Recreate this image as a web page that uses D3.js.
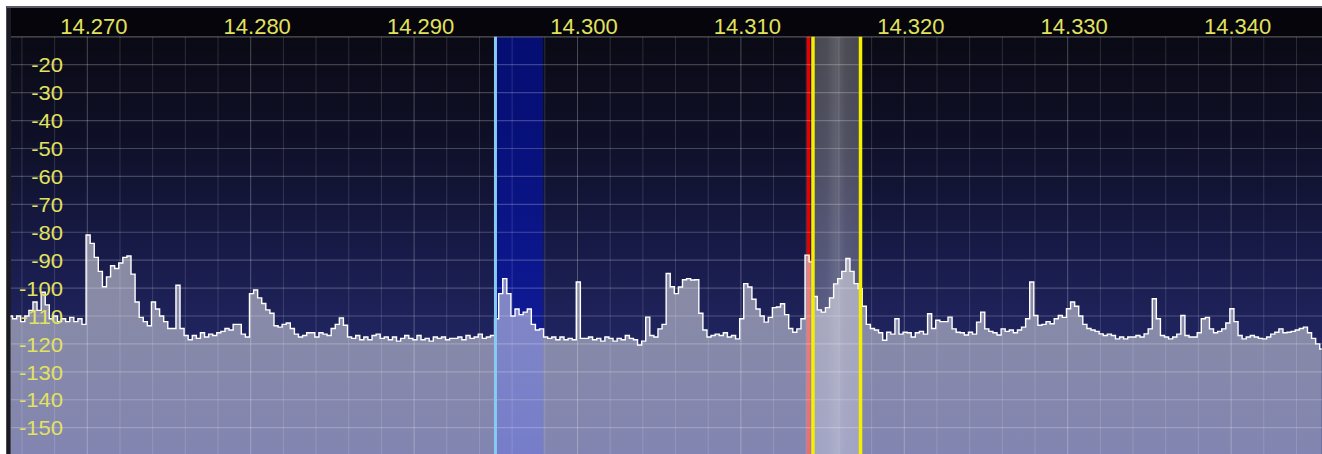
<!DOCTYPE html>
<html>
<head>
<meta charset="utf-8">
<script src="https://cdn.jsdelivr.net/npm/d3@7"></script>
<style>
  body { margin: 0; background: #fff; }
  svg { display: block; }
</style>
</head>
<body>
<svg id="chart" width="1322" height="454"></svg>
<script>
// Panadapter sweep: one level (dBm) per 250 Hz bin, starting at startFreq (MHz)
const startFreq = 14.2653;
const binStep = 0.00025;
const levels = [
  -110,-111,-110,-112,-110,-108,-105,-108,-101.5,-106,
  -111,-110,-112,-111,-112,-110.5,-112,-111,-113,-81,
  -84,-89,-94,-99.5,-96,-92,-93,-91,-89,-88.5,
  -95,-105,-110.5,-112,-113.5,-105,-107.5,-110,-112,-114.5,
  -114.5,-99,-114.5,-117,-118.5,-117,-118,-116,-117.5,-116.5,
  -117,-116,-115.5,-114.5,-115,-113,-113,-116.5,-117.5,-102,
  -100.7,-103.5,-105.5,-107.8,-109,-113.5,-114,-113,-112.5,-114.5,
  -116.5,-117.5,-117,-116,-116,-117.5,-116,-116.5,-117,-114.5,
  -113,-110.7,-113.3,-117.5,-118,-117,-118.5,-117.5,-118.5,-117,
  -116.5,-118,-117.5,-118.5,-117.5,-119,-118,-117,-118,-118.5,
  -117,-118.5,-118,-119,-117.5,-118,-117.5,-118.5,-118,-118,
  -117.5,-118.5,-117,-118,-117.5,-116.5,-118,-117.5,-117,-111,
  -102,-96.6,-102,-110,-107.5,-109.5,-108.6,-107.5,-113,-115,
  -114.6,-117.5,-118,-117.5,-118.5,-117.5,-118.5,-118,-118.5,-97.8,
  -118,-118,-117.5,-118.5,-118,-119,-117.5,-118,-119,-118,
  -118.5,-117,-118,-118.5,-120.4,-119,-110.4,-117,-117.5,-114.6,
  -113,-94.8,-99.5,-102,-99.6,-97,-96.6,-97.1,-97,-109,
  -115,-117.5,-117,-116.5,-117,-116,-117.5,-117,-118.2,-111,
  -98.4,-99.6,-104,-107.5,-110,-112.2,-110.5,-107,-106.8,-105.6,
  -109.5,-114.5,-115.8,-114.6,-111,-88.2,-90.6,-103,-107.8,-108.6,
  -107,-103.5,-98.5,-96.6,-94,-89.4,-94,-98.4,-100.2,-106.5,
  -113,-114.5,-115,-116,-118.7,-115.8,-116.5,-111,-116.5,-115.8,
  -116,-117.5,-116,-115.5,-116.5,-109.2,-114.5,-111.5,-112,-112,
  -110.4,-114.6,-115.8,-116,-116.8,-115.8,-116.5,-112.2,-108.6,-114.6,
  -115.5,-116,-116.8,-114.6,-115.5,-115,-116,-115,-114,-111,
  -97.8,-109.8,-113.3,-113,-112,-112.8,-111,-109.8,-110.5,-107.4,
  -105,-106.5,-110,-113,-114.5,-115,-115.5,-116.4,-117,-116.5,
  -117,-118.2,-117.5,-118.2,-117.5,-117.5,-117,-117.5,-116.4,-114.6,
  -103.8,-111,-117,-117.5,-118.2,-117.5,-116.5,-109.8,-117,-117.5,
  -117.5,-116,-111,-110.5,-114.6,-116,-115.5,-114.6,-112.5,-107.4,
  -112,-117,-118.2,-117.5,-117,-117.5,-118,-118.2,-117.5,-116.5,
  -115.8,-114.6,-116,-115.8,-115.5,-115,-114.5,-114,-116,-118,
  -120,-121.8
];

const freqTicks = [14.270, 14.280, 14.290, 14.300, 14.310, 14.320, 14.330, 14.340];
const levelTicks = [-20, -30, -40, -50, -60, -70, -80, -90, -100, -110, -120, -130, -140, -150];

// Receive marker with its filter passband, transmit marker with its passband
const rxFreq = 14.29498;
const rxFilterHigh = 14.29789;
const txCarrier = 14.31414;
const txFilterLow = 14.31438;
const txFilterHigh = 14.31729;

const W = 1322, H = 454;
const plotLeft = 11, plotTop = 36.8, headerTop = 8;

const svg = d3.select("#chart");
const defs = svg.append("defs");

const x = d3.scaleLinear().domain([14.2653, 14.3456]).range([10.5, 1322.6]);
const y = d3.scaleLinear().domain([-10, -160]).range([plotTop, 455.6]);

const bgGrad = defs.append("linearGradient").attr("id", "bgGrad")
  .attr("x1", 0).attr("y1", 0).attr("x2", 0).attr("y2", 1);
[[0, "#0a0a15"], [0.25, "#0f1028"], [0.5, "#171a46"], [0.72, "#20245f"], [1, "#282d78"]]
  .forEach(([o, c]) => bgGrad.append("stop").attr("offset", o).attr("stop-color", c));

const fillGrad = defs.append("linearGradient").attr("id", "fillGrad")
  .attr("gradientUnits", "userSpaceOnUse")
  .attr("x1", 0).attr("y1", y(-80)).attr("x2", 0).attr("y2", H);
fillGrad.append("stop").attr("offset", 0).attr("stop-color", "#fff").attr("stop-opacity", 0.5);
fillGrad.append("stop").attr("offset", 1).attr("stop-color", "#fff").attr("stop-opacity", 0.42);

const txGrad = defs.append("linearGradient").attr("id", "txGrad")
  .attr("x1", 0).attr("y1", 0).attr("x2", 1).attr("y2", 0);
[[0, 0.25], [0.3, 0.27], [0.5, 0.34], [0.7, 0.27], [1, 0.25]]
  .forEach(([o, a]) => txGrad.append("stop").attr("offset", o)
    .attr("stop-color", "#fff").attr("stop-opacity", a));

// frame
svg.append("rect").attr("x", 6).attr("y", 6).attr("width", W - 6).attr("height", H - 6).attr("fill", "#1a1a22");
svg.append("rect").attr("x", 6).attr("y", 6).attr("width", W - 6).attr("height", 2).attr("fill", "#5c5c68");
svg.append("rect").attr("x", 6).attr("y", 6).attr("width", 1).attr("height", H - 6).attr("fill", "#4a4a55");

// header strip holding the frequency scale
svg.append("rect").attr("x", plotLeft).attr("y", headerTop)
  .attr("width", W - plotLeft).attr("height", plotTop - headerTop).attr("fill", "#05050b");

// plot background
svg.append("rect").attr("x", plotLeft).attr("y", plotTop)
  .attr("width", W - plotLeft).attr("height", H - plotTop).attr("fill", "url(#bgGrad)");

const plotH = H - plotTop;

// receive filter passband
svg.append("rect").attr("x", x(rxFreq)).attr("y", plotTop)
  .attr("width", x(rxFilterHigh) - x(rxFreq)).attr("height", plotH)
  .attr("fill", "rgb(0,18,205)").attr("fill-opacity", 0.5);

// transmit filter passband
svg.append("rect").attr("x", x(txFilterLow)).attr("y", plotTop)
  .attr("width", x(txFilterHigh) - x(txFilterLow)).attr("height", plotH)
  .attr("fill", "url(#txGrad)");

// transmit carrier marker (sits under the spectrum fill)
svg.append("line").attr("x1", x(txCarrier)).attr("x2", x(txCarrier))
  .attr("y1", plotTop).attr("y2", H).attr("stroke", "#e80000").attr("stroke-width", 3.5);

// grid
const gridV = d3.range(14.266, 14.3455, 0.002);
svg.append("g").selectAll("line").data(gridV).join("line")
  .attr("x1", d => x(d)).attr("x2", d => x(d)).attr("y1", plotTop).attr("y2", H)
  .attr("stroke", "#fff")
  .attr("stroke-opacity", d => Math.abs(Math.round(d * 100) - d * 100) < 1e-6 ? 0.26 : 0.14)
  .attr("stroke-width", 1);
const gridH = d3.range(-10, -161, -10);
svg.append("g").selectAll("line").data(gridH).join("line")
  .attr("x1", plotLeft).attr("x2", W).attr("y1", d => y(d)).attr("y2", d => y(d))
  .attr("stroke", "#fff").attr("stroke-opacity", d => d === -10 ? 0.3 : 0.22).attr("stroke-width", 1.2);

// spectrum
const pts = levels.map((v, i) => [startFreq + i * binStep, v]);
const area = d3.area().curve(d3.curveStep)
  .x(d => x(d[0])).y0(H).y1(d => y(d[1]));
const line = d3.line().curve(d3.curveStep)
  .x(d => x(d[0])).y(d => y(d[1]));
svg.append("path").datum(pts).attr("d", area).attr("fill", "url(#fillGrad)");
svg.append("path").datum(pts).attr("d", line)
  .attr("fill", "none").attr("stroke", "#fff").attr("stroke-width", 1.4)
  .attr("stroke-linejoin", "miter");

// filter edge markers
[txFilterLow, txFilterHigh].forEach(f => {
  svg.append("line").attr("x1", x(f) + 0.5).attr("x2", x(f) + 0.5)
    .attr("y1", plotTop).attr("y2", H).attr("stroke", "#f4f000").attr("stroke-width", 3.5);
});
svg.append("line").attr("x1", x(rxFreq)).attr("x2", x(rxFreq))
  .attr("y1", plotTop).attr("y2", H).attr("stroke", "#86ccf2").attr("stroke-width", 3);

const labelFont = "'Liberation Sans', Arial, sans-serif";

// frequency scale
const xAxis = d3.axisTop(x).tickValues(freqTicks).tickSize(0).tickPadding(0)
  .tickFormat(d => d.toFixed(3));
const gx = svg.append("g").attr("transform", "translate(6,34)").call(xAxis);
gx.select(".domain").remove();
gx.selectAll("text")
  .attr("fill", "#e2e25e").attr("font-family", labelFont)
  .attr("font-size", 22).attr("dy", 0);

// level scale (plain hyphen for the sign)
const yAxis = d3.axisLeft(y).tickValues(levelTicks).tickSize(0).tickPadding(0)
  .tickFormat(d => "-" + Math.abs(d));
const gy = svg.append("g").attr("transform", "translate(63,0)").call(yAxis);
gy.select(".domain").remove();
gy.selectAll("text")
  .attr("fill", "#e2e25e").attr("font-family", labelFont)
  .attr("font-size", 20).attr("dy", "0.36em")
  .attr("transform", "scale(1.1,1)");
</script>
</body>
</html>
